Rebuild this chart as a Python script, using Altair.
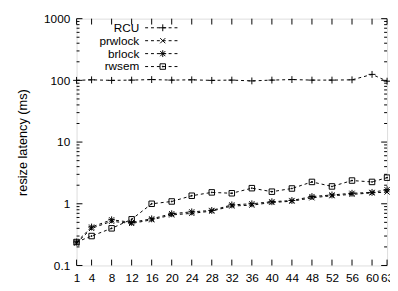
import altair as alt
import pandas as pd

threads = [1, 4, 8, 12, 16, 20, 24, 28, 32, 36, 40, 44, 48, 52, 56, 60, 63]
rcu = [100, 102, 100, 101, 103, 101, 102, 100, 101, 98, 101, 103, 101, 101, 102, 125, 97]
prwlock = [0.23, 0.40, 0.52, 0.48, 0.55, 0.66, 0.70, 0.76, 0.92, 0.95, 1.05, 1.10, 1.25, 1.35, 1.42, 1.50, 1.55]
brlock = [0.24, 0.42, 0.55, 0.50, 0.57, 0.69, 0.74, 0.78, 0.96, 1.00, 1.08, 1.13, 1.31, 1.39, 1.48, 1.53, 1.69]
rwsem = [0.24, 0.30, 0.40, 0.56, 1.00, 1.09, 1.35, 1.53, 1.48, 1.79, 1.57, 1.77, 2.26, 1.91, 2.38, 2.26, 2.65]
series_names = ["RCU", "prwlock", "brlock", "rwsem"]

x_ticks = [1, 4, 8, 12, 16, 20, 24, 28, 32, 36, 40, 44, 48, 52, 56, 60, 63]
y_major = [0.1, 1, 10, 100, 1000]
y_minor = [0.2, 0.3, 0.4, 0.5, 0.6, 0.7, 0.8, 0.9,
           2, 3, 4, 5, 6, 7, 8, 9,
           20, 30, 40, 50, 60, 70, 80, 90,
           200, 300, 400, 500, 600, 700, 800, 900]

W, H = 317, 252
FONT = "Liberation Sans"

plus = "M-1,0L1,0M0,-1L0,1"
xmark = "M-0.75,-0.75L0.75,0.75M-0.75,0.75L0.75,-0.75"
star = plus + xmark
square = "M-0.8,-0.8L0.8,-0.8L0.8,0.8L-0.8,0.8Z M-0.12,-0.12L0.12,-0.12L0.12,0.12L-0.12,0.12Z"
shapes = [plus, xmark, star, square]

rows = []
for name, vals in zip(series_names, [rcu, prwlock, brlock, rwsem]):
    for t, v in zip(threads, vals):
        rows.append({"threads": t, "latency": v, "series": name})
df = pd.DataFrame(rows)

xscale = alt.Scale(domain=[1, 63], zero=False, nice=False)
yscale = alt.Scale(type="log", domain=[0.1, 1000], nice=False)
xaxis = alt.Axis(values=x_ticks, ticks=False, domain=False, grid=False,
                 labelFont=FONT, labelFontSize=12, labelColor="black",
                 labelPadding=7, title=None, labelFlush=False, labelOverlap=False)
yaxis = alt.Axis(values=y_major, ticks=False, domain=False, grid=False, format="~g",
                 labelFont=FONT, labelFontSize=12, labelColor="black",
                 labelPadding=7, title="resize latency (ms)", titleFont=FONT,
                 titleFontSize=13, titleFontWeight="normal", titleColor="black",
                 titlePadding=14)


def X(field):
    return alt.X(field, scale=xscale, axis=xaxis)


def Y(field):
    return alt.Y(field, scale=yscale, axis=yaxis)


base = alt.Chart(df)
lines = base.mark_line(color="black", strokeWidth=1, strokeDash=[3, 3]).encode(
    x=X("threads:Q"), y=Y("latency:Q"), detail="series:N",
)
points = base.mark_point(filled=False, color="black", strokeWidth=1, size=49, opacity=1).encode(
    x=X("threads:Q"), y=Y("latency:Q"),
    shape=alt.Shape("series:N", scale=alt.Scale(domain=series_names, range=shapes), legend=None),
)

xt = alt.Chart(pd.DataFrame({"t": x_ticks}))
ymaj = alt.Chart(pd.DataFrame({"v": y_major}))
ymin = alt.Chart(pd.DataFrame({"v": y_minor}))
tick_layers = [
    xt.mark_rule(color="black", strokeWidth=1).encode(
        x=X("t:Q"), y=alt.value(H), y2=alt.value(H - 6)),
    xt.mark_rule(color="black", strokeWidth=1).encode(
        x=X("t:Q"), y=alt.value(0), y2=alt.value(6)),
    ymaj.mark_rule(color="black", strokeWidth=1).encode(
        y=Y("v:Q"), x=alt.value(0), x2=alt.value(6)),
    ymaj.mark_rule(color="black", strokeWidth=1).encode(
        y=Y("v:Q"), x=alt.value(W - 6), x2=alt.value(W)),
    ymin.mark_rule(color="black", strokeWidth=1).encode(
        y=Y("v:Q"), x=alt.value(0), x2=alt.value(3)),
    ymin.mark_rule(color="black", strokeWidth=1).encode(
        y=Y("v:Q"), x=alt.value(W - 3), x2=alt.value(W)),
]

legend_layers = []
for i, (name, shp) in enumerate(zip(series_names, shapes)):
    ly = 9.3 + i * 13.2
    ld = alt.Chart(pd.DataFrame({"series": [name]}))
    legend_layers.append(ld.mark_text(align="right", baseline="middle", font=FONT,
                                      fontSize=12, color="black").encode(
        text="series:N", x=alt.value(64), y=alt.value(ly)))
    legend_layers.append(ld.mark_rule(color="black", strokeWidth=1, strokeDash=[3, 3]).encode(
        x=alt.value(70), x2=alt.value(105), y=alt.value(ly)))
    legend_layers.append(ld.mark_point(shape=shp, filled=False, color="black", strokeWidth=1,
                                       size=49, opacity=1).encode(
        x=alt.value(88), y=alt.value(ly)))

chart = alt.layer(lines, points, *tick_layers, *legend_layers).properties(
    width=W, height=H,
    autosize=alt.AutoSizeParams(type="none"),
    padding={"left": 70, "top": 8, "right": 3, "bottom": 15},
).configure_view(stroke="black", strokeWidth=1).configure(background="white")

chart.save("out.html", embed_options={"renderer": "svg", "actions": False})
